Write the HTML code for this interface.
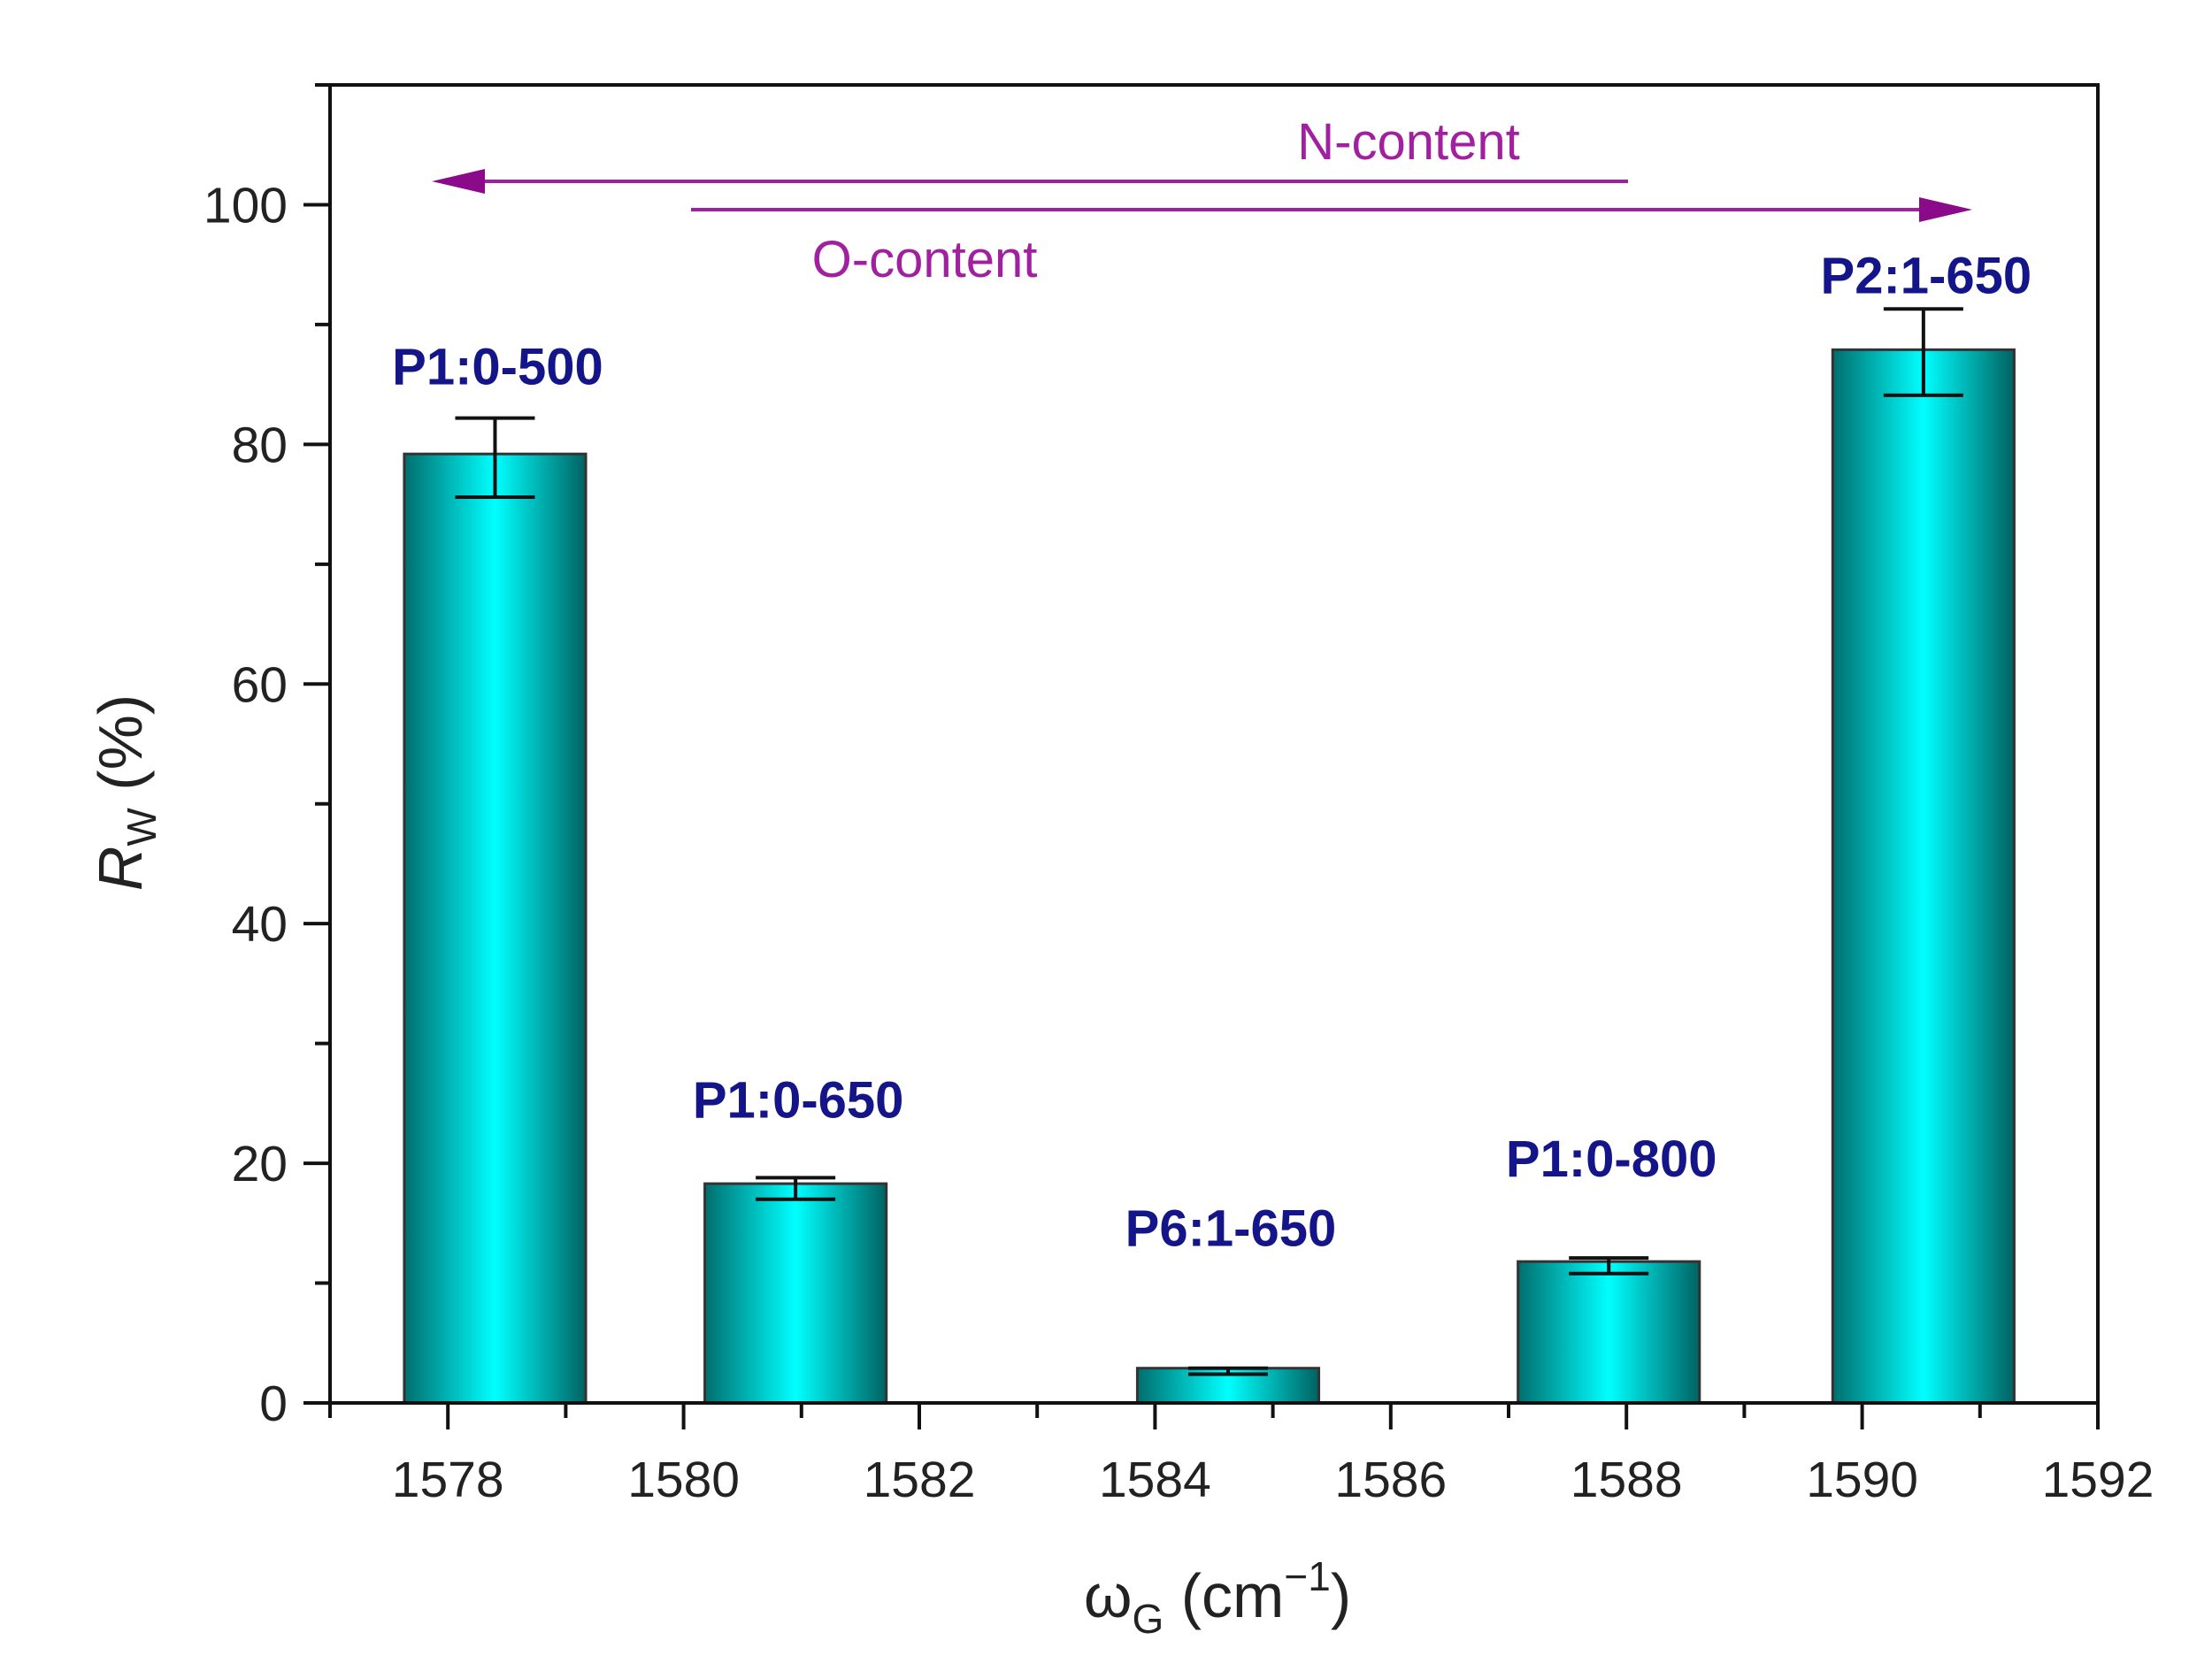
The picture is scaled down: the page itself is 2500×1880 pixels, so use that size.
<!DOCTYPE html>
<html><head><meta charset="utf-8"><style>
html,body{margin:0;padding:0;background:#fff}
svg{display:block;font-family:"Liberation Sans",Arial,sans-serif}
</style></head><body>
<svg id="chart" width="2500" height="1880" viewBox="0 0 2500 1880">
<defs>
<linearGradient id="barGrad" x1="0" x2="1" y1="0" y2="0">
<stop offset="0" stop-color="#006e6e"/><stop offset="0.5" stop-color="#00ffff"/><stop offset="1" stop-color="#006262"/>
</linearGradient>
</defs>
<g id="plot"></g>
</svg>
<script>
const categories = ["P1:0-500","P1:0-650","P6:1-650","P1:0-800","P2:1-650"];
const xPositions = [1578.4, 1580.95, 1584.62, 1587.85, 1590.52];
const values = [79.2, 18.3, 2.9, 11.8, 87.9];
const errHigh = [82.2, 18.8, 2.9, 12.1, 91.3];
const errLow = [75.6, 17.0, 2.4, 10.8, 84.1];
const labelValues = [85, 23.8, 13.1, 18.9, 92.6];
const xTicks = [1578,1580,1582,1584,1586,1588,1590,1592];
const yTicks = [0,20,40,60,80,100];

const L=373,R=2371,T=96,B=1586;
const X0=1577,X1=1592,Y0=0,Y1=110;
const sx=v=>L+(v-X0)/(X1-X0)*(R-L);
const sy=v=>B-(v-Y0)/(Y1-Y0)*(B-T);
const NS="http://www.w3.org/2000/svg";
const g=document.getElementById('plot');
function mk(tag,attrs,parent){const e=document.createElementNS(NS,tag);for(const k in attrs)e.setAttribute(k,attrs[k]);(parent||g).appendChild(e);return e;}

const barW=1.54*(R-L)/(X1-X0);
categories.forEach((c,i)=>{
  const x=sx(xPositions[i]);
  const b=mk('rect',{x:x-barW/2,y:sy(values[i]),width:barW,height:B-sy(values[i]),fill:'url(#barGrad)',stroke:'#333',"stroke-width":3});
  
  
  const e=mk('path',{d:`M${x-45},${sy(errHigh[i])}H${x+45}M${x},${sy(errHigh[i])}V${sy(errLow[i])}M${x-45},${sy(errLow[i])}H${x+45}`,stroke:'#111',"stroke-width":4,fill:'none'});
  
  
  const t=mk('text',{x:x+3,y:sy(labelValues[i]),"text-anchor":"middle","font-size":58,"font-weight":"bold",fill:'#15158a'});
  t.textContent=c;
  
  
});

const fr=mk('rect',{x:L,y:T,width:R-L,height:B-T,fill:'none',stroke:'#111',"stroke-width":4});



for(let v=X0;v<=X1;v++){
  const major=v%2===0;
  const tk=mk('line',{x1:sx(v),x2:sx(v),y1:B,y2:B+(major?30:17),stroke:'#111',"stroke-width":4});
  
  
}
xTicks.forEach(v=>{
  const t=mk('text',{x:sx(v),y:1692,"text-anchor":"middle","font-size":57,fill:'#222'});
  t.textContent=v;
  
  
});
for(let v=0;v<=110;v+=10){
  const major=v%20===0;
  const tk=mk('line',{x1:L,x2:L-(major?30:17),y1:sy(v),y2:sy(v),stroke:'#111',"stroke-width":4});
  
  
}
yTicks.forEach(v=>{
  const t=mk('text',{x:325,y:sy(v)+20,"text-anchor":"end","font-size":57,fill:'#222'});
  t.textContent=v;
  
  
});

const purple='#a020a0';
const a1=mk('path',{d:'M1840,205H520',stroke:purple,"stroke-width":4,fill:'none'});


mk('path',{d:'M488,205L548,191L548,219Z',fill:'#8a0a8a'});
const a2=mk('path',{d:'M781,237H2195',stroke:purple,"stroke-width":4,fill:'none'});


mk('path',{d:'M2229,237L2169,223L2169,251Z',fill:'#8a0a8a'});
const n=mk('text',{x:1592,y:180,"text-anchor":"middle","font-size":58,fill:purple});
n.textContent='N-content';


const o=mk('text',{x:1045,y:313,"text-anchor":"middle","font-size":58,fill:purple});
o.textContent='O-content';



const yt=mk('text',{x:0,y:0,"text-anchor":"middle","font-size":70,fill:'#222',transform:'translate(160,896) rotate(-90)'});
yt.innerHTML='<tspan font-style="italic">R</tspan><tspan font-size="46" dy="16">W</tspan><tspan dy="-16"> (%)</tspan>';


const xt=mk('text',{x:1376,y:1828,"text-anchor":"middle","font-size":70,fill:'#222'});
xt.innerHTML='ω<tspan font-size="46" dy="18">G</tspan><tspan dy="-18"> (cm</tspan><tspan font-size="46" dy="-30">−1</tspan><tspan dy="30">)</tspan>';


</script>
</body></html>
